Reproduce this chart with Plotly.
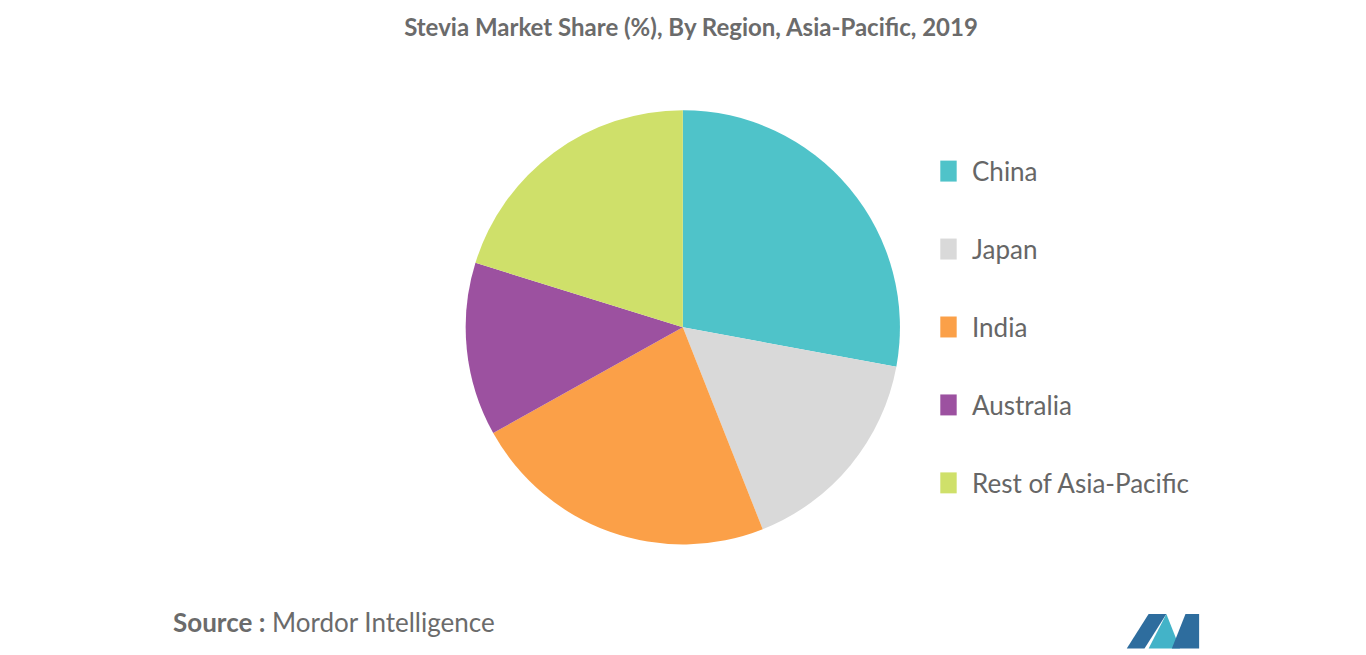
import plotly.graph_objects as go

regions = ["China", "Japan", "India", "Australia", "Rest of Asia-Pacific"]
shares = [27.9, 16.1, 22.9, 12.9, 20.2]
colors = ["#4FC3C9", "#D9D9D9", "#FBA048", "#9C51A0", "#CFE06A"]

fig = go.Figure()
fig.add_trace(go.Pie(
    labels=regions, values=shares, sort=False, direction="clockwise",
    rotation=0, marker=dict(colors=colors), textinfo="none",
    hoverinfo="label+percent", showlegend=False,
    domain=dict(x=[0.335, 0.653], y=[0.181, 0.844]),
))

# legend drawn by hand for wide spacing
annotations = []
shapes = []
for i, (name, col) in enumerate(zip(regions, colors)):
    yc = 0.751 - i * 0.119
    shapes.append(dict(type="rect", xref="paper", yref="paper",
                       x0=0.6825, x1=0.6945, y0=yc - 0.016, y1=yc + 0.016,
                       fillcolor=col, line_width=0))
    annotations.append(dict(text=name, x=0.7045, y=yc, xref="paper", yref="paper",
                            xanchor="left", yanchor="middle", showarrow=False,
                            font=dict(size=26, color="#666666")))

annotations.append(dict(text="<b>Source :</b> Mordor Intelligence", x=0.119, y=0.062,
                        xref="paper", yref="paper", xanchor="left", yanchor="middle",
                        showarrow=False, font=dict(size=26, color="#6b6b6b")))

shapes += [
    dict(type="path", xref="paper", yref="paper", fillcolor="#2e6d9e", line_width=0,
         path="M 0.819 0.022 L 0.835 0.075 L 0.848 0.075 L 0.832 0.022 Z"),
    dict(type="path", xref="paper", yref="paper", fillcolor="#43b3c8", line_width=0,
         path="M 0.835 0.022 L 0.848 0.075 L 0.858 0.022 Z"),
    dict(type="path", xref="paper", yref="paper", fillcolor="#2e6d9e", line_width=0,
         path="M 0.852 0.022 L 0.862 0.075 L 0.872 0.075 L 0.872 0.022 Z"),
]

fig.update_layout(
    width=1366, height=655,
    margin=dict(l=0, r=0, t=0, b=0),
    paper_bgcolor="white",
    font=dict(family="Lato, Noto Sans, sans-serif", color="#666666"),
    title=dict(text="<b>Stevia Market Share (%), By Region, Asia-Pacific, 2019</b>",
               x=0.5, xanchor="center", y=0.970, yanchor="middle",
               font=dict(size=24, color="#6b6b6b")),
    annotations=annotations,
    shapes=shapes,
)

fig.write_html("out.html")
